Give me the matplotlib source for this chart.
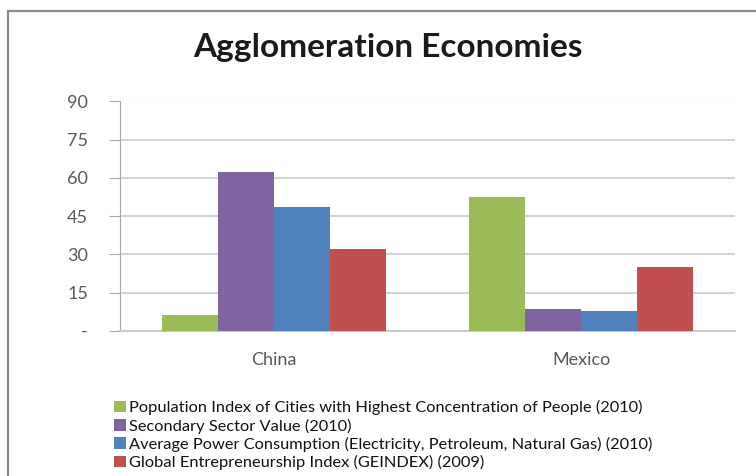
import matplotlib.pyplot as plt
from matplotlib.patches import Rectangle

countries = ['China', 'Mexico']
series_names = [
    'Population Index of Cities with Highest Concentration of People (2010)',
    'Secondary Sector Value (2010)',
    'Average Power Consumption (Electricity, Petroleum, Natural Gas) (2010)',
    'Global Entrepreneurship Index (GEINDEX) (2009)',
]
population_index = [6.2, 52.5]
secondary_sector = [62.4, 8.4]
power_consumption = [48.6, 7.9]
geindex = [32.0, 25.0]
y_ticks = [0, 15, 30, 45, 60, 75, 90]
y_tick_labels = ['-', '15', '30', '45', '60', '75', '90']

colors = ['#9BBB59', '#8064A2', '#4F81BD', '#C0504D']

plt.rcParams['font.family'] = ['Lato', 'DejaVu Sans']

W, H = 756, 476
fig = plt.figure(figsize=(W / 100, H / 100), dpi=100)

# chart frame (runs off the right and bottom edges)
fig.patches.append(Rectangle((8 / W, -0.1), 1.0, 1 - 11 / H + 0.1,
                             transform=fig.transFigure, fill=False,
                             edgecolor='#8c8c8c', lw=1.6))

ax = fig.add_axes([120 / W, (H - 330.7) / H, 615 / W, 229.2 / H])

width = 0.182
all_series = [population_index, secondary_sector, power_consumption, geindex]
for j, vals in enumerate(all_series):
    xs = [i + (j - 1.5) * width for i in range(len(countries))]
    ax.bar(xs, vals, width=width, color=colors[j], label=series_names[j], zorder=3)

ax.set_xlim(-0.5, 1.5)
ax.set_ylim(0, 90)
ax.set_yticks(y_ticks)
ax.set_yticklabels(y_tick_labels)
ax.set_xticks(range(len(countries)))
ax.set_xticklabels(countries)

ax.yaxis.grid(True, color='#d4d4d4', lw=1.5, zorder=0)
ax.set_axisbelow(True)
for s in ['top', 'right']:
    ax.spines[s].set_visible(False)
ax.spines['left'].set_color('#a6a6a6')
ax.spines['bottom'].set_color('#c8c8c8')
ax.spines['bottom'].set_linewidth(1.5)
ax.tick_params(axis='y', length=8, color='#a6a6a6', labelsize=13,
               labelcolor='#595959', pad=15)
ax.tick_params(axis='x', length=0, labelsize=13, labelcolor='#595959', pad=15)

fig.text(388 / W, 1 - 48 / H, 'Agglomeration Economies', ha='center',
         va='center', fontsize=24, fontweight='bold', color='#1a1a1a')

fig.legend(loc='upper left', bbox_to_anchor=(106 / W, 1 - 392 / H),
           frameon=False, fontsize=11.8, handlelength=0.7, handleheight=0.7,
           handletextpad=0.2, labelspacing=0.2, borderpad=0,
           labelcolor='#111111')

fig.savefig('out.png', dpi=100)
